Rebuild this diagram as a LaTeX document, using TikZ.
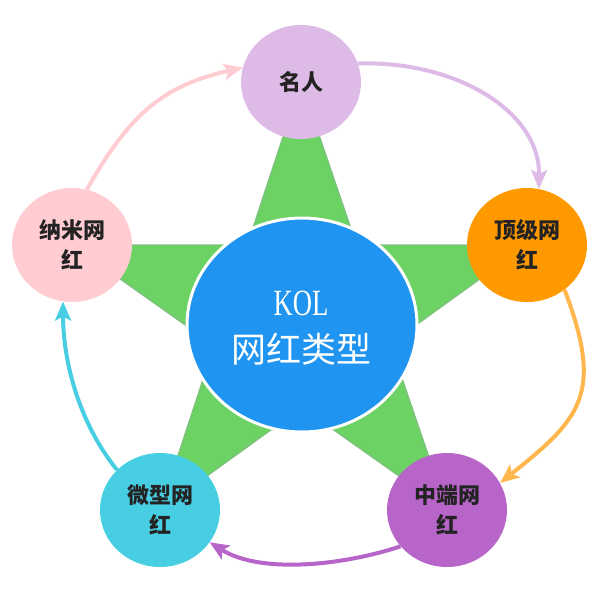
\documentclass[tikz,border=0pt]{standalone}
\usepackage{fontspec}
\usepackage{graphicx}
\usetikzlibrary{shapes.geometric,arrows.meta}
\newfontfamily\cjk{Noto Sans CJK SC}
\newfontfamily\kolfont{Liberation Serif}
\definecolor{stargreen}{RGB}{108,210,100}
\definecolor{staredge}{RGB}{128,192,128}
\definecolor{kolblue}{RGB}{31,148,240}
\definecolor{clav}{RGB}{221,187,230}
\definecolor{corange}{RGB}{255,153,0}
\definecolor{cpurple}{RGB}{183,101,200}
\definecolor{ccyan}{RGB}{72,206,226}
\definecolor{cpink}{RGB}{255,204,210}
\definecolor{aorange}{RGB}{255,183,77}
\definecolor{labeltext}{RGB}{35,35,35}
\begin{document}
\begin{tikzpicture}[x=1pt,y=-1pt,
  outer/.style={ellipse, minimum width=120pt, minimum height=114pt, inner sep=0pt,
    align=center, text=labeltext, font=\cjk\bfseries\fontsize{22}{30}\selectfont},
  arr/.style={line width=4pt, -{Stealth[length=19pt,width=16pt,inset=4pt]}}]
\path[use as bounding box] (0,0) rectangle (615,592);
\coordinate (pN) at (301,82);
\coordinate (pE) at (527,245);
\coordinate (pSE) at (447,510);
\coordinate (pSW) at (160,510);
\coordinate (pW) at (72,245);
% star
\path[fill=stargreen, draw=staredge, line width=1.2pt, line join=miter]
  (pN) -- (pSW) -- (pE) -- (pW) -- (pSE) -- cycle;
% centre
\node[draw=white, line width=3pt, fill=kolblue, ellipse, minimum width=230pt,
  minimum height=214pt, inner sep=0pt] (kol) at (302,325) {};
\node[text=white, inner sep=0pt, font=\kolfont\fontsize{37}{37}\selectfont] (koltxt) at (301,303) {\scalebox{0.72}[1]{KOL}};
\node[text=white, inner sep=0pt, font=\cjk\fontsize{35}{35}\selectfont] (koltype) at (301,349) {网红类型};
% outer
\node[outer, fill=clav] (mr) at (pN) {名人};
\node[outer, fill=corange] (dj) at (pE) {顶级网\\红};
\node[outer, fill=cpurple] (zd) at (pSE) {中端网\\红};
\node[outer, fill=ccyan] (wx) at (pSW) {微型网\\红};
\node[outer, fill=cpink] (nm) at (pW) {纳米网\\红};
% arrows
\draw[arr, cpink] (nm.75) .. controls +(44,-78) and +(-78,18) .. (mr.166);
\draw[arr, clav] (mr.18) .. controls +(99,-3) and +(1,-77) .. (dj.78);
\draw[arr, aorange] (dj.310) .. controls +(40,105) and +(80,-64) .. (zd.27);
\draw[arr, cpurple] (zd.218) .. controls +(-57,19) and +(51,32) .. (wx.327);
\draw[arr, ccyan] (wx.137) .. controls +(-38,-47) and +(0,60) .. (nm.261);
\end{tikzpicture}
\end{document}
